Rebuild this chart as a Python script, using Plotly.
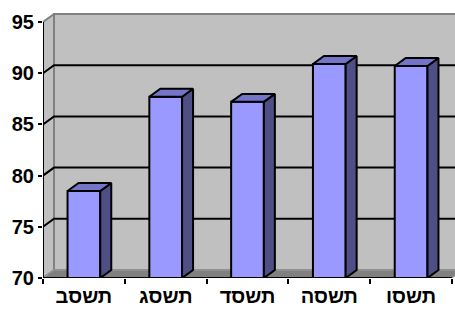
import plotly.graph_objects as go

categories = ["תשסב", "תשסג", "תשסד", "תשסה", "תשסו"]
values = [78.5, 87.7, 87.2, 90.9, 90.7]
y_ticks = [70, 75, 80, 85, 90, 95]

Y0, Y1 = 70, 95
W = 0.40          # bar width (category units)
DX, DY = 0.1345, 0.78   # 3D depth offset in data units
X0, X1 = -0.5, len(categories) - 0.5
XR = X0 + 412 / 81.8
YR = Y0 + 265 / 10.24

FRONT = "#9999FF"
SIDE = "#4F4F85"
TOP = "#7474C8"
WALL = "#C0C0C0"

fig = go.Figure()

def poly(xs, ys, fill, lc, lw):
    fig.add_trace(go.Scatter(x=xs + [xs[0]], y=ys + [ys[0]], mode="lines", fill="toself",
                             fillcolor=fill, line=dict(color=lc, width=lw),
                             hoverinfo="skip", showlegend=False))

def seg(xs, ys, lc, lw):
    fig.add_trace(go.Scatter(x=xs, y=ys, mode="lines", line=dict(color=lc, width=lw),
                             hoverinfo="skip", showlegend=False))

# back wall
poly([X0 + DX, XR + 1, XR + 1, X0 + DX], [Y0 + DY, Y0 + DY, Y1 + DY, Y1 + DY], WALL, "#808080", 2)
# left side wall
poly([X0, X0 + DX, X0 + DX, X0], [Y0, Y0 + DY, Y1 + DY, Y1], WALL, "#808080", 2)
# floor
poly([X0, X1, X1 + DX, X0 + DX], [Y0, Y0, Y0 + DY, Y0 + DY], "#808080", "#A0A0A0", 1)

# gridlines
for t in y_ticks[1:-1]:
    seg([X0, X0 + DX, XR + 1], [t, t + DY, t + DY], "black", 2)

# bars
for i, v in enumerate(values):
    l, r = i - W / 2, i + W / 2
    poly([l, r, r, l], [Y0, Y0, v, v], FRONT, "black", 2)
    poly([r, r + DX, r + DX, r], [Y0, Y0 + DY, v + DY, v], SIDE, "black", 2)
    poly([l, r, r + DX, l + DX], [v, v, v + DY, v + DY], TOP, "black", 2)

# axis lines
seg([X0, X0], [Y0, Y1], "black", 2)
seg([X0, X1], [Y0, Y0], "black", 2)

yfont = dict(family="Liberation Sans, Arial, sans-serif", size=20, color="black")
xfont = dict(family="Liberation Sans, Arial, sans-serif", size=20, color="black")

fig.update_layout(
    width=455, height=312,
    margin=dict(l=43, r=0, t=13, b=34),
    paper_bgcolor="white", plot_bgcolor="white",
    xaxis=dict(range=[X0, XR], tickvals=list(range(len(categories))),
               ticktext=[f"<b>{c}</b>" for c in categories],
               showgrid=False, zeroline=False, showline=False, ticks="", automargin=False,
               tickfont=xfont, ticklabelstandoff=4,
               minor=dict(tickvals=[k + 0.5 for k in range(-1, len(categories))], ticks="outside",
                          ticklen=5, tickwidth=2, tickcolor="black", showgrid=False)),
    yaxis=dict(range=[Y0, YR], tickvals=y_ticks, ticktext=[f"<b>{t}</b>" for t in y_ticks],
               showgrid=False, zeroline=False, showline=False, automargin=False,
               ticks="outside", ticklen=4, tickwidth=2, tickcolor="black", tickfont=yfont),
)

fig.write_html("out.html", post_script="document.body.style.margin='0';",
               config={"displayModeBar": False})
